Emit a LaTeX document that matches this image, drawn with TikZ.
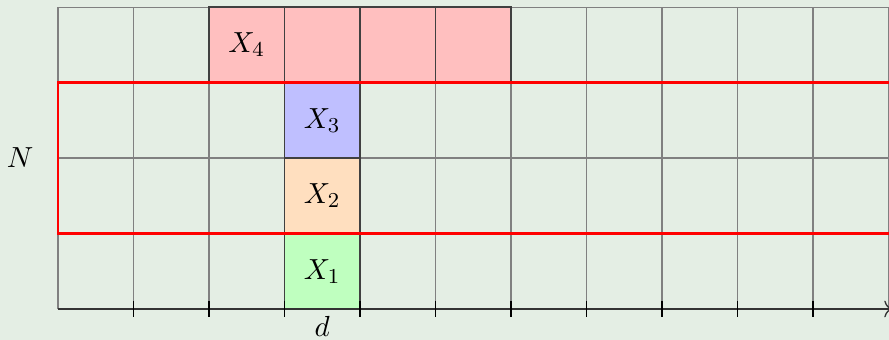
\documentclass[tikz,border=0pt]{standalone}
\usetikzlibrary{arrows.meta}
\definecolor{bg}{RGB}{228,238,228}
\begin{document}
\begin{tikzpicture}[
  cellbox/.style={draw=black!75, line width=0.4pt},
  lab/.style={font=\fontsize{11}{13}\selectfont, inner sep=0pt},
  tick/.style={black, line width=0.45pt}]
\useasboundingbox[fill=bg] (-0.768,-0.41) rectangle (11.007,4.093);
\begin{scope}
\clip (-0.768,-0.41) rectangle (11.007,4.093);
\draw[gray, line width=0.4pt] (0,0) grid (11.5,4);
\foreach \i in {2,...,5} \fill[red!25, cellbox] (\i,3) rectangle ++(1,1);
\fill[blue!25, cellbox] (3,2) rectangle ++(1,1);
\fill[orange!25, cellbox] (3,1) rectangle ++(1,1);
\fill[green!25, cellbox] (3,0) rectangle ++(1,1);
\draw[red, line width=0.8pt] (0,1) rectangle (11.5,3);
\draw[black!80, line width=0.5pt, -{To[length=3pt]}] (0,0) -- (11.05,0);
\foreach \i in {1,...,10} \draw[tick] (\i,0.1) -- (\i,-0.1);
\end{scope}
\node[lab] (x4) at (2.5,3.5) {$X_4$};
\node[lab] (x3) at (3.5,2.5) {$X_3$};
\node[lab] (x2) at (3.5,1.5) {$X_2$};
\node[lab] (x1) at (3.5,0.5) {$X_1$};
\node[lab] (d) at (3.5,-0.23) {$d$};
\node[lab] (n) at (-0.5,2) {$N$};
\end{tikzpicture}
\end{document}
